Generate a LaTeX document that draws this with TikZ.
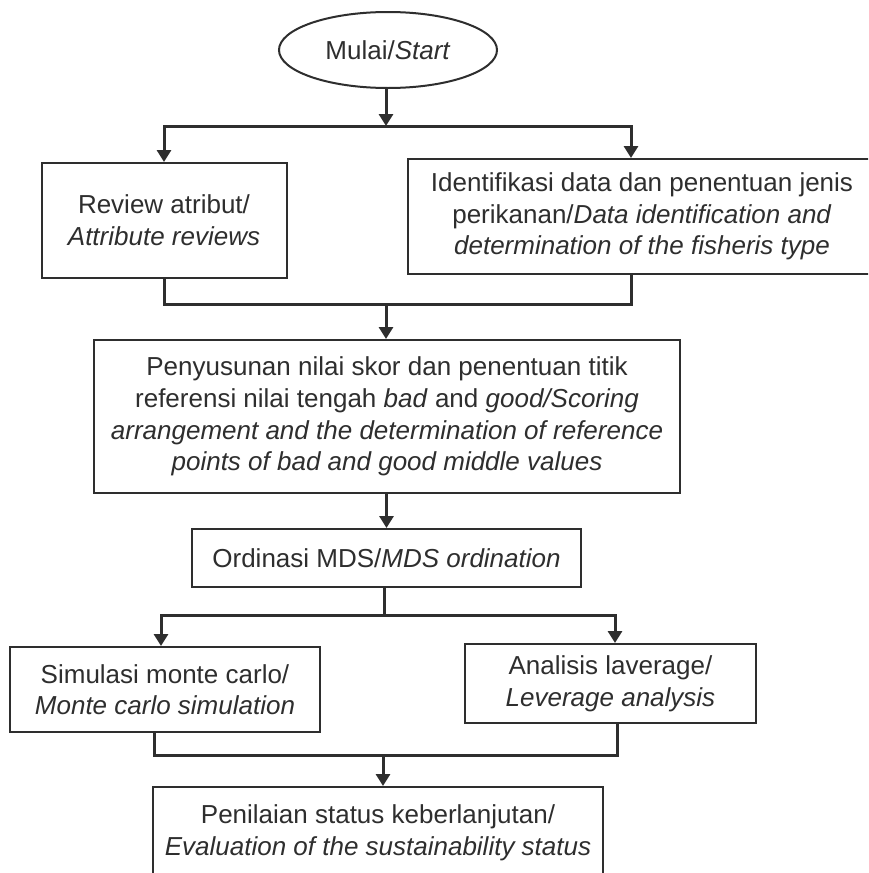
\documentclass[tikz,border=0pt]{standalone}
\usepackage{fontspec}
\setmainfont{Liberation Sans}
\definecolor{ink}{HTML}{2E2E2E}
\usetikzlibrary{shapes.geometric, arrows.meta}

\begin{document}
\begin{tikzpicture}[x=0.5pt, y=-0.5pt,
    every node/.style={font=\fontsize{13}{15.8}\selectfont, align=center, text=ink},
    box/.style={draw=ink, line width=1pt, inner sep=2pt},
    link/.style={draw=ink, line width=1.5pt},
    arr/.style={link, -{Triangle[width=7pt, length=6pt]}}]
                    \useasboundingbox (0,0) rectangle (868,873);
                    \clip (0,0) rectangle (868,873);
                    \fill[white] (0,0) rectangle (868,873);

                    \node[ellipse, box, minimum width=109pt, minimum height=38pt] (start) at (388,50) {Mulai/\textit{Start}};
                    \node[box, minimum width=122.5pt, minimum height=57.5pt] (review) at (164,220.5) {Review atribut/\\ \textit{Attribute reviews}};
                    \node[box, minimum width=234pt, minimum height=57.5pt] (ident) at (642,216.5) {Identifikasi data dan penentuan jenis\\ perikanan/\textit{Data identification and}\\ \textit{determination of the fisheris type}};
                    \node[box, minimum width=293pt, minimum height=76.5pt] (score) at (387,416.5) {Penyusunan nilai skor dan penentuan titik\\ referensi nilai tengah \textit{bad} and \textit{good/Scoring}\\ \textit{arrangement and the determination of reference}\\ \textit{points of bad and good middle values}};
                    \node[box, minimum width=194.5pt, minimum height=29pt] (mds) at (386.5,558) {Ordinasi MDS/\textit{MDS ordination}};
                    \node[box, minimum width=155pt, minimum height=42.5pt] (monte) at (165,689.5) {Simulasi monte carlo/\\ \textit{Monte carlo simulation}};
                    \node[box, minimum width=145.5pt, minimum height=39.5pt] (lever) at (610.5,683.5) {Analisis laverage/\\ \textit{Leverage analysis}};
                    \node[box, minimum width=225pt, minimum height=46pt] (eval) at (378,833) {Penilaian status keberlanjutan/\\ \textit{Evaluation of the sustainability status}};

                    % split and merge points
                    \coordinate (split1) at (386,126);
                    \coordinate (merge1) at (386,304);
                    \coordinate (split2) at (384,615);
                    \coordinate (merge2) at (383,755);

                    \draw[arr] (split1 |- start.south) -- (split1);
                    \draw[arr] (split1) -| (review.north);
                    \draw[arr] (split1) -| ([xshift=-5.5pt]ident.north);
                    \draw[link] (review.south) |- (merge1);
                    \draw[link] ([xshift=-5.5pt]ident.south) |- (merge1);
                    \draw[arr] (merge1) -- (score.north -| merge1);
                    \draw[arr] (score.south -| mds) -- (mds);
                    \draw[link] (mds.south -| split2) -- (split2);
                    \draw[arr] (split2) -| ([xshift=-2pt]monte.north);
                    \draw[arr] (split2) -| ([xshift=2.25pt]lever.north);
                    \draw[link] ([xshift=-5.5pt]monte.south) |- (merge2);
                    \draw[link] ([xshift=3.25pt]lever.south) |- (merge2);
                    \draw[arr] (merge2) -- (eval.north -| merge2);
                \end{tikzpicture}
\end{document}
